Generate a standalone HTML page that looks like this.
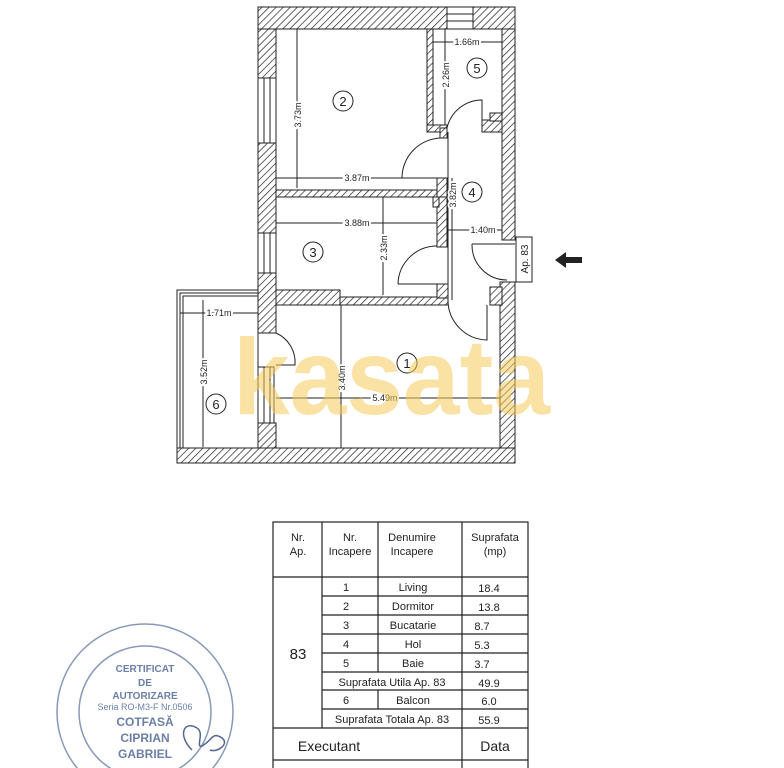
<!DOCTYPE html>
<html><head><meta charset="utf-8"><style>
html,body{margin:0;padding:0;background:#fff;}
svg{display:block;font-family:"Liberation Sans",sans-serif;}
</style></head><body>
<svg width="784" height="768" viewBox="0 0 784 768" xmlns="http://www.w3.org/2000/svg">
<defs>
<pattern id="h" width="5" height="5" patternUnits="userSpaceOnUse" patternTransform="rotate(45)">
<rect width="5" height="5" fill="#fff"/><line x1="0" y1="0" x2="0" y2="5" stroke="#222" stroke-width="1.4"/>
</pattern>
</defs>
<rect width="784" height="768" fill="#fff"/>
<g stroke="#222" stroke-width="1" fill="url(#h)">
<!-- top wall -->
<rect x="258" y="7" width="189" height="22"/>
<rect x="473" y="7" width="42" height="22"/>
<!-- left walls -->
<rect x="258" y="29" width="18" height="49"/>
<rect x="258" y="143" width="18" height="90"/>
<rect x="258" y="273" width="18" height="60"/>
<rect x="258" y="423" width="18" height="25"/>
<!-- right wall -->
<rect x="502" y="29" width="13" height="211"/>
<rect x="500" y="282" width="15" height="166"/>
<rect x="490" y="287" width="12" height="18"/>
<!-- bottom wall -->
<rect x="177" y="448" width="338" height="15"/>
<!-- 2/3 wall -->
<rect x="276" y="190" width="166" height="7"/>
<rect x="437" y="178" width="10" height="22"/>
<!-- 3/4 wall -->
<rect x="437" y="197" width="10" height="50"/>
<rect x="433" y="197" width="6" height="10"/>
<!-- 3/1 wall -->
<rect x="276" y="290" width="64" height="15"/>
<rect x="340" y="297" width="108" height="8"/>
<rect x="437" y="284" width="11" height="14"/>
<!-- bath walls -->
<rect x="427" y="29" width="6" height="99"/>
<rect x="427" y="125" width="20" height="7"/>
<rect x="440" y="128" width="7" height="10"/>
<rect x="482" y="120" width="20" height="12"/>
<rect x="490" y="113" width="12" height="8"/>
</g>
<g stroke="#222" stroke-width="1" fill="none">
<!-- windows -->
<rect x="447" y="7" width="26" height="22"/><line x1="447" y1="14" x2="473" y2="14"/><line x1="447" y1="21" x2="473" y2="21"/>
<rect x="258" y="78" width="18" height="65"/><line x1="264" y1="78" x2="264" y2="143"/><line x1="270" y1="78" x2="270" y2="143"/>
<rect x="258" y="233" width="18" height="40"/><line x1="264" y1="233" x2="264" y2="273"/><line x1="270" y1="233" x2="270" y2="273"/>
<rect x="258" y="367" width="16" height="56"/><line x1="264" y1="367" x2="264" y2="423"/><line x1="270" y1="367" x2="270" y2="423"/>
<line x1="258" y1="333" x2="258" y2="367"/>
<!-- balcony -->
<path d="M258 290 H177 V448"/><path d="M258 293 H180 V448"/><path d="M258 296 H183 V448"/>
<!-- doors -->
<path d="M402 178 A40 40 0 0 1 442 138"/><line x1="402" y1="178" x2="437" y2="178"/>
<path d="M447 128 A36 36 0 0 1 482 100 L482 120"/>
<path d="M398 284 A39 39 0 0 1 437 246"/><line x1="398" y1="284" x2="437" y2="284"/>
<path d="M472 244 A35 35 0 0 0 507 280"/><line x1="472" y1="244" x2="515" y2="244"/>
<line x1="448" y1="132" x2="448" y2="300"/>
<path d="M448 300 A40 40 0 0 0 487 340 L487 305"/>
<path d="M276 333 A32 32 0 0 1 295 365 L276 365"/>
<!-- dimension lines -->
<line x1="433" y1="42" x2="502" y2="42"/>
<line x1="445" y1="29" x2="445" y2="125"/>
<line x1="297" y1="29" x2="297" y2="188"/>
<line x1="276" y1="178" x2="402" y2="178"/>
<line x1="452" y1="178" x2="452" y2="300"/>
<line x1="276" y1="223" x2="437" y2="223"/>
<line x1="383" y1="197" x2="383" y2="295"/>
<line x1="447" y1="230" x2="502" y2="230"/>
<line x1="180" y1="313" x2="258" y2="313"/>
<line x1="203" y1="300" x2="203" y2="447"/>
<line x1="341" y1="305" x2="341" y2="448"/>
<line x1="276" y1="398" x2="500" y2="398"/>
<!-- room circles -->
<circle cx="407" cy="363" r="10"/><circle cx="343" cy="101" r="10"/><circle cx="313" cy="252" r="10"/>
<circle cx="472" cy="192" r="10"/><circle cx="477" cy="68" r="10"/><circle cx="216" cy="404" r="10"/>
<rect x="516" y="237" width="16" height="45" fill="#fff"/>
</g>
<g font-size="9" fill="#222" text-anchor="middle">
<text x="467" y="45" style="paint-order:stroke" stroke="#fff" stroke-width="4">1.66m</text>
<text transform="translate(449,75) rotate(-90)" stroke="#fff" stroke-width="4" style="paint-order:stroke">2.26m</text>
<text transform="translate(301,115) rotate(-90)" stroke="#fff" stroke-width="4" style="paint-order:stroke">3.73m</text>
<text x="357" y="181" stroke="#fff" stroke-width="4" style="paint-order:stroke">3.87m</text>
<text transform="translate(456,195) rotate(-90)" stroke="#fff" stroke-width="4" style="paint-order:stroke">3.82m</text>
<text x="357" y="226" stroke="#fff" stroke-width="4" style="paint-order:stroke">3.88m</text>
<text transform="translate(387,248) rotate(-90)" stroke="#fff" stroke-width="4" style="paint-order:stroke">2.33m</text>
<text x="483" y="233" stroke="#fff" stroke-width="4" style="paint-order:stroke">1.40m</text>
<text x="219" y="316" stroke="#fff" stroke-width="4" style="paint-order:stroke">1.71m</text>
<text transform="translate(207,372) rotate(-90)" stroke="#fff" stroke-width="4" style="paint-order:stroke">3.52m</text>
<text transform="translate(345,378) rotate(-90)" stroke="#fff" stroke-width="4" style="paint-order:stroke">3.40m</text>
<text x="385" y="401" stroke="#fff" stroke-width="4" style="paint-order:stroke">5.49m</text>
<text transform="translate(528,259) rotate(-90)" font-size="10">Ap. 83</text>
</g>
<g font-size="13" fill="#222" text-anchor="middle">
<text x="407" y="368">1</text><text x="343" y="106">2</text><text x="313" y="257">3</text>
<text x="472" y="197">4</text><text x="477" y="73">5</text><text x="216" y="409">6</text>
</g>
<path d="M555 260 L566 252 L566 257 L582 257 L582 263 L566 263 L566 268 Z" fill="#222"/>
<text x="233" y="414" font-size="108" font-weight="bold" fill="#f5c95a" fill-opacity="0.55" textLength="317" lengthAdjust="spacingAndGlyphs">kasata</text>
<!-- table -->
<g stroke="#222" stroke-width="1.2" fill="none">
<rect x="273" y="522" width="255" height="250"/>
<line x1="322" y1="522" x2="322" y2="728"/>
<line x1="378" y1="522" x2="378" y2="577"/>
<line x1="462" y1="522" x2="462" y2="772"/>
<line x1="273" y1="577" x2="528" y2="577"/>
<line x1="322" y1="596" x2="528" y2="596"/>
<line x1="322" y1="615" x2="528" y2="615"/>
<line x1="322" y1="634" x2="528" y2="634"/>
<line x1="322" y1="653" x2="528" y2="653"/>
<line x1="322" y1="672" x2="528" y2="672"/>
<line x1="322" y1="690" x2="528" y2="690"/>
<line x1="322" y1="709" x2="528" y2="709"/>
<line x1="273" y1="728" x2="528" y2="728"/>
<line x1="273" y1="760" x2="528" y2="760"/>
<line x1="378" y1="577" x2="378" y2="672"/>
<line x1="378" y1="690" x2="378" y2="709"/>
</g>
<g font-size="11" fill="#222" text-anchor="middle">
<text x="298" y="541">Nr.</text><text x="298" y="555">Ap.</text>
<text x="350" y="541">Nr.</text><text x="350" y="555">Incapere</text>
<text x="412" y="541">Denumire</text><text x="412" y="555">Incapere</text>
<text x="495" y="541">Suprafata</text><text x="495" y="555">(mp)</text>
<text x="298" y="659" font-size="15">83</text>
<text x="346" y="591">1</text><text x="413" y="591">Living</text><text x="489" y="592">18.4</text>
<text x="346" y="610">2</text><text x="413" y="610">Dormitor</text><text x="489" y="611">13.8</text>
<text x="346" y="629">3</text><text x="413" y="629">Bucatarie</text><text x="482" y="630">8.7</text>
<text x="346" y="648">4</text><text x="413" y="648">Hol</text><text x="482" y="649">5.3</text>
<text x="346" y="667">5</text><text x="413" y="667">Baie</text><text x="482" y="668">3.7</text>
<text x="392" y="686">Suprafata Utila Ap. 83</text><text x="489" y="687">49.9</text>
<text x="346" y="704">6</text><text x="413" y="704">Balcon</text><text x="489" y="705">6.0</text>
<text x="392" y="723">Suprafata Totala Ap. 83</text><text x="489" y="724">55.9</text>
<text x="329" y="751" font-size="14">Executant</text><text x="495" y="751" font-size="14">Data</text>
</g>
<!-- stamp -->
<g fill="none" stroke="#6a7fa8" stroke-width="1.5" opacity="0.8">
<circle cx="145" cy="712" r="88"/><circle cx="145" cy="712" r="66"/>
<path d="M192 750 c-15 -15 -8 -30 5 -22 c8 5 -2 20 5 18 c10 -5 10 -15 20 -8 c8 6 -5 15 -12 12" stroke="#2a3f78"/>
</g>
<g fill="#6a7fa8" font-size="10" text-anchor="middle" font-weight="bold">
<text x="145" y="672">CERTIFICAT</text><text x="145" y="686">DE</text><text x="145" y="699">AUTORIZARE</text>
<text x="145" y="710" font-size="9" font-weight="normal">Seria RO-M3-F Nr.0506</text>
<text x="145" y="726" font-size="12">COTFASĂ</text><text x="145" y="742" font-size="12">CIPRIAN</text><text x="145" y="758" font-size="12">GABRIEL</text>
</g>
</svg>
</body></html>
